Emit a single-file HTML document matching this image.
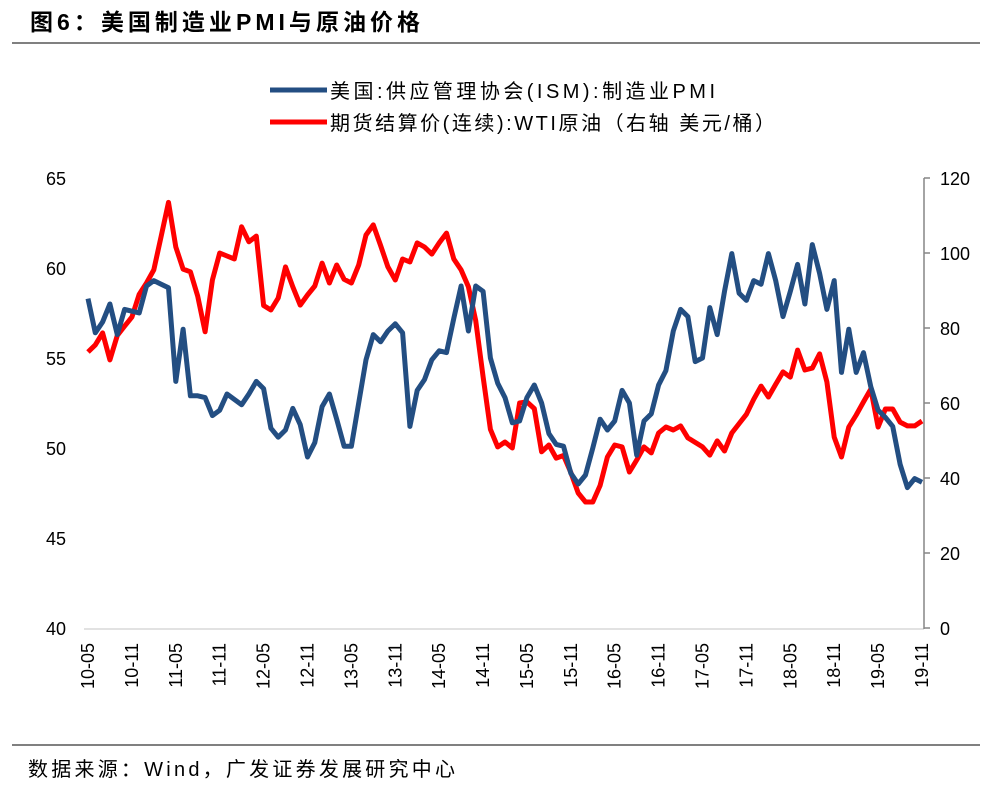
<!DOCTYPE html>
<html><head><meta charset="utf-8"><style>
body{margin:0;background:#fff;width:992px;height:793px;overflow:hidden;font-family:"Liberation Sans","Noto Sans CJK SC",sans-serif}
</style></head><body>
<svg width="992" height="793" xmlns="http://www.w3.org/2000/svg" font-family="Liberation Sans, Noto Sans CJK SC, sans-serif">
<text x="30" y="30" font-size="23" font-weight="bold" fill="#000" textLength="390" lengthAdjust="spacing">图6：美国制造业PMI与原油价格</text>
<line x1="12" y1="43" x2="980" y2="43" stroke="#000" stroke-width="1"/>
<g>
<line x1="270" y1="90" x2="327" y2="90" stroke="#234E82" stroke-width="5"/>
<text x="330" y="98" font-size="20" fill="#000" textLength="385" lengthAdjust="spacing">美国:供应管理协会(ISM):制造业PMI</text>
<line x1="270" y1="122" x2="327" y2="122" stroke="#FF0000" stroke-width="5"/>
<text x="330" y="130" font-size="20" fill="#000" textLength="445" lengthAdjust="spacing">期货结算价(连续):WTI原油（右轴 美元/桶）</text>
</g>
<g id="axes"></g>
<g id="marks"></g>
<line x1="12" y1="745" x2="980" y2="745" stroke="#000" stroke-width="1"/>
<text x="28" y="776" font-size="20" fill="#000" textLength="427" lengthAdjust="spacing">数据来源：Wind，广发证券发展研究中心</text>
</svg>
<script>
const pmiValues=[58.3,56.4,57,58.0,56.3,57.7,57.6,57.5,59.0,59.3,59.1,58.9,53.7,56.6,52.9,52.9,52.8,51.8,52.1,53.0,52.7,52.4,53.0,53.7,53.3,51.1,50.6,51.0,52.2,51.3,49.5,50.3,52.3,53.0,51.6,50.1,50.1,52.5,54.9,56.3,55.9,56.5,56.9,56.4,51.2,53.2,53.8,54.9,55.4,55.3,57.2,59.0,56.5,59.0,58.7,55.0,53.6,52.8,51.4,51.5,52.8,53.5,52.5,50.8,50.2,50.1,48.6,48.0,48.5,50.0,51.6,51.0,51.5,53.2,52.5,49.6,51.5,51.9,53.5,54.3,56.5,57.7,57.3,54.8,55.0,57.8,56.3,58.7,60.8,58.6,58.2,59.3,59.1,60.8,59.3,57.3,58.7,60.2,58.0,61.3,59.7,57.7,59.3,54.2,56.6,54.2,55.3,53.4,52.1,51.7,51.2,49.1,47.8,48.3,48.1];
const wtiValues=[73.6,75.5,78.7,71.5,78,80.5,82.9,89,92,95.5,104.5,113.5,101.6,95.7,95,88.5,79,92.8,100,99.2,98.4,107,103,104.5,86,84.8,88,96.3,91,86.1,88.8,91.2,97.3,92,96.8,93,92,96.8,104.8,107.5,102,96.3,92.8,98.4,97.6,102.7,101.6,99.7,102.7,105.3,98.4,95.5,91,82,67,53,48.3,49.6,48,60,60.3,58.5,47,48.8,45.3,46,41.5,36,33.6,33.6,38,45.6,48.8,48.3,41.6,44.8,48.3,46.7,52,53.6,52.8,53.9,50.7,49.5,48.3,46.1,49.9,47.2,52,54.5,57,61,64.5,61.6,65,68.3,66.9,74.1,68.8,69.3,73.1,65.6,50.9,45.6,53.6,56.8,60.3,63.7,53.6,58.4,58.4,54.9,53.9,53.9,55.2];
const xTickLabels=["10-05","10-11","11-05","11-11","12-05","12-11","13-05","13-11","14-05","14-11","15-05","15-11","16-05","16-11","17-05","17-11","18-05","18-11","19-05","19-11"];
const leftTicks=[40,45,50,55,60,65];
const rightTicks=[0,20,40,60,80,100,120];

const NS="http://www.w3.org/2000/svg";
const x0=88,x1=922,yTop=178,yBot=628;
const n=pmiValues.length;
function xPos(i){return x0+(x1-x0)*i/(n-1);}
function yLeft(v){return yBot-(v-40)/(65-40)*(yBot-yTop);}
function yRight(v){return yBot-(v-0)/(120-0)*(yBot-yTop);}
function mk(tag,attrs,parent,txt){const e=document.createElementNS(NS,tag);for(const k in attrs)e.setAttribute(k,attrs[k]);if(txt!==undefined)e.textContent=txt;parent.appendChild(e);return e;}
const axes=document.getElementById('axes'),marks=document.getElementById('marks');

let e=mk('line',{x1:84,y1:629,x2:924,y2:629,stroke:'#d9d9d9','stroke-width':1.5},axes);


e=mk('line',{x1:924,y1:yTop,x2:924,y2:629,stroke:'#868686','stroke-width':1.5},axes);



leftTicks.forEach(v=>{
  const t=mk('text',{x:66,y:yLeft(v)+7,'font-size':18,'text-anchor':'end',fill:'#000'},axes,String(v));
  
  
});
rightTicks.forEach(v=>{
  const tk=mk('line',{x1:924,y1:yRight(v),x2:930,y2:yRight(v),stroke:'#868686','stroke-width':1.5},axes);
  
  
  const t=mk('text',{x:940,y:yRight(v)+7,'font-size':18,'text-anchor':'start',fill:'#000'},axes,String(v));
  
  
});
xTickLabels.forEach((lab,k)=>{
  const x=xPos(k*6)+6;
  const t=mk('text',{x:x,y:643,'font-size':18,'text-anchor':'end',fill:'#000',transform:'rotate(-90 '+x+' 643)'},axes,lab);
  
  
});

function path(vals,yf){return vals.map((v,i)=>(i?'L':'M')+xPos(i).toFixed(1)+' '+yf(v).toFixed(1)).join(' ');}
e=mk('path',{d:path(wtiValues,yRight),fill:'none',stroke:'#FF0000','stroke-width':5,'stroke-linejoin':'round'},marks);


e=mk('path',{d:path(pmiValues,yLeft),fill:'none',stroke:'#234E82','stroke-width':5,'stroke-linejoin':'round'},marks);


</script>
</body></html>
